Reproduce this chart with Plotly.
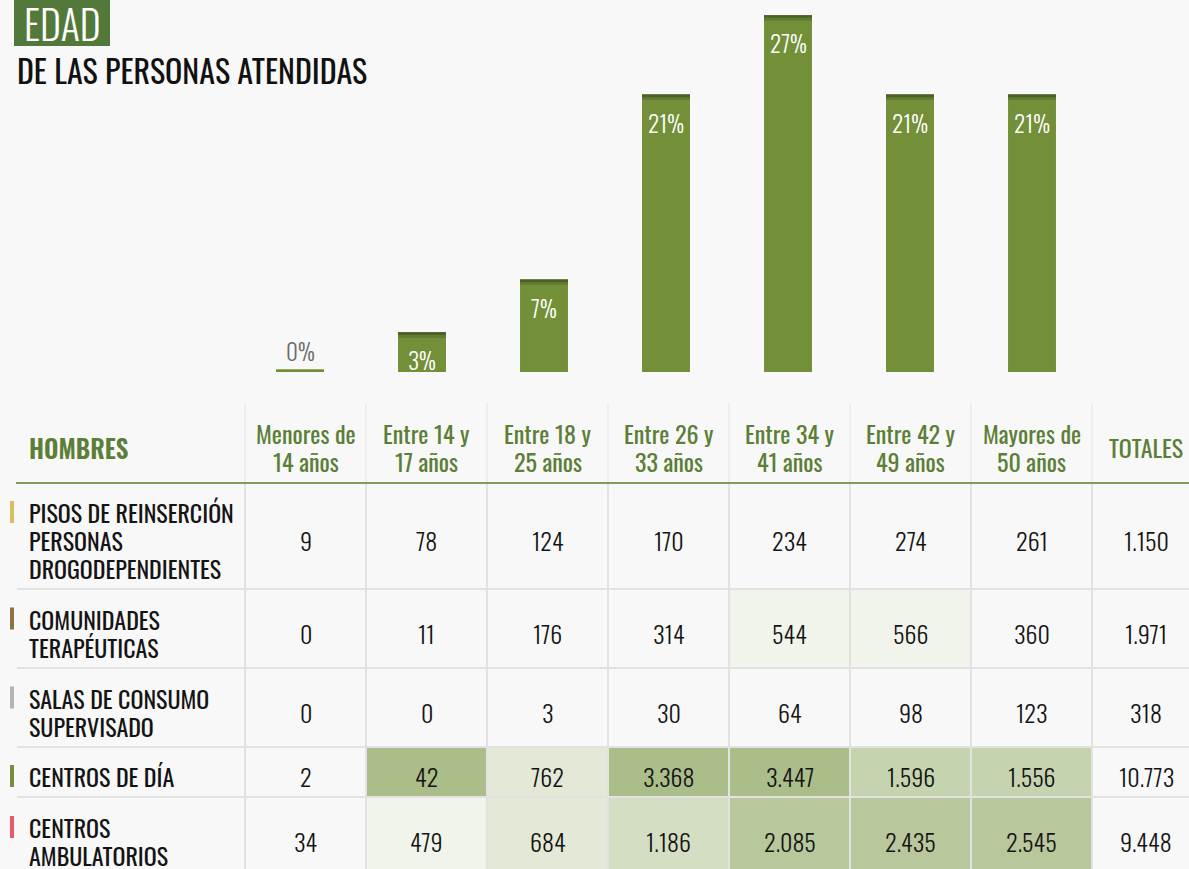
import plotly.graph_objects as go

# ---------------- data ----------------
age_groups = ["Menores de 14 años", "Entre 14 y 17 años", "Entre 18 y 25 años",
              "Entre 26 y 33 años", "Entre 34 y 41 años", "Entre 42 y 49 años",
              "Mayores de 50 años"]
age_headers = [["Menores de", "14 años"], ["Entre 14 y", "17 años"], ["Entre 18 y", "25 años"],
               ["Entre 26 y", "33 años"], ["Entre 34 y", "41 años"], ["Entre 42 y", "49 años"],
               ["Mayores de", "50 años"]]
age_share_pct = [0.2, 3, 7, 21, 27, 21, 21]

services = [["PISOS DE REINSERCIÓN", "PERSONAS", "DROGODEPENDIENTES"],
            ["COMUNIDADES", "TERAPÉUTICAS"],
            ["SALAS DE CONSUMO", "SUPERVISADO"],
            ["CENTROS DE DÍA"],
            ["CENTROS", "AMBULATORIOS"]]
service_colors = ["#d9bd5e", "#8b7440", "#b4b4b4", "#738f38", "#e85a6a"]

pisos = [9, 78, 124, 170, 234, 274, 261]
comunidades = [0, 11, 176, 314, 544, 566, 360]
salas = [0, 0, 3, 30, 64, 98, 123]
centros_dia = [2, 42, 762, 3368, 3447, 1596, 1556]
ambulatorios = [34, 479, 684, 1186, 2085, 2435, 2545]
totales = [1150, 1971, 318, 10773, 9448]

# highlight level of each cell (0 = none ... 6 = darkest)
shade_pisos = [0, 0, 0, 0, 0, 0, 0, 0]
shade_comunidades = [0, 0, 0, 0, 1, 1, 0, 0]
shade_salas = [0, 0, 0, 0, 0, 0, 0, 0]
shade_centros_dia = [0, 6, 2, 6, 6, 4, 4, 0]
shade_ambulatorios = [0, 1, 2, 3, 5, 5, 5, 0]

# ---------------- styles ----------------
FONT = "Oswald, Roboto Condensed, sans-serif"
BG = "#f8f8f8"
GREEN = "#738f38"
HEAD_GREEN = "#5b7f37"
INK = "#141414"
W, H = 1189, 869

shade_colors = [BG, "#f1f4ea", "#e3e9d6", "#d4dec3", "#c6d3af", "#b8c89c", "#abbd89"]
colorscale = [[i / 6, c] for i, c in enumerate(shade_colors)]

# table geometry (pixels)
label_left = 16
col_edges = [label_left, 245, 366, 487, 608, 729, 850, 971, 1092, 1200]
header_top, header_bottom = 403, 483
row_edges = [483, 589, 668, 747, 797, 877]
line_px = 28
text_drop = 4


def fmt(v):
    return f"{v:,}".replace(",", ".")


rows = [pisos, comunidades, salas, centros_dia, ambulatorios]
shades = [shade_pisos, shade_comunidades, shade_salas, shade_centros_dia, shade_ambulatorios]
z = [[0] + s for s in shades]

fig = go.Figure()

# ---- bar chart ----
fig.add_trace(go.Bar(
    x=age_groups, y=age_share_pct, marker=dict(color=GREEN, line=dict(width=0)),
    hoverinfo="skip", xaxis="x", yaxis="y"))
# dark top fold on bars
strip_outer, strip_inner = 0.42, 0.2
big = [v if v > 1 else None for v in age_share_pct]
fig.add_trace(go.Bar(
    x=age_groups, y=[strip_outer if v else None for v in big],
    base=[v - strip_outer if v else None for v in big],
    marker=dict(color="#637c31", line=dict(width=0)), hoverinfo="skip"))
fig.add_trace(go.Bar(
    x=age_groups, y=[strip_inner if v else None for v in big],
    base=[v - strip_inner if v else None for v in big],
    marker=dict(color="#4c6027", line=dict(width=0)), hoverinfo="skip"))

annotations = []
for g, v in zip(age_groups, age_share_pct):
    lab = f"{round(v)}%"
    inside = v > 1
    annotations.append(dict(x=g, y=v, xref="x", yref="y", text=lab, showarrow=False,
                            yanchor="middle", yshift=-28 if inside else 18,
                            font=dict(family=FONT, size=23, weight=300,
                                      color="white" if inside else "#6b6b6b")))

# ---- table ----
fig.add_trace(go.Heatmap(
    x=col_edges, y=row_edges, z=z,
    colorscale=colorscale, zmin=0, zmax=6, showscale=False,
    xgap=2, ygap=2, hoverinfo="skip", xaxis="x2", yaxis="y2"))

col_centers = [(a + b) / 2 for a, b in zip(col_edges[1:-1], col_edges[2:])]
row_centers = [(a + b) / 2 + text_drop for a, b in zip(row_edges[:-1], row_edges[1:])]

for r, vals, tot in zip(row_centers, rows, totales):
    for cx, v in zip(col_centers, vals + [tot]):
        annotations.append(dict(x=cx, y=r, xref="x2", yref="y2", text=fmt(v),
                                showarrow=False, xanchor="center", yanchor="middle",
                                font=dict(family=FONT, size=24, weight=300, color=INK)))

shapes = [
    # grid line colour under the cells
    dict(type="rect", xref="x2", yref="y2", x0=label_left + 1, x1=1200, y0=header_bottom,
         y1=877, fillcolor="#e2e2e2", line=dict(width=0), layer="below"),
    # title box
    dict(type="rect", xref="x2", yref="y2", x0=14, x1=110, y0=0, y1=46,
         fillcolor="#52783a", line=dict(width=0), layer="below"),
]
for xe in col_edges[1:-1]:
    shapes.append(dict(type="line", xref="x2", yref="y2", x0=xe, x1=xe, y0=header_top,
                       y1=header_bottom, line=dict(color="#ededed", width=2), layer="below"))
shapes.append(dict(type="line", xref="x2", yref="y2", x0=label_left, x1=1200,
                   y0=header_bottom, y1=header_bottom,
                   line=dict(color="#7f9b62", width=2), layer="above"))

header_mid = 447
annotations.append(dict(x=27, y=header_mid, xref="x2", yref="y2", text="HOMBRES",
                        showarrow=False, xanchor="left", yanchor="middle",
                        font=dict(family=FONT, size=25, weight=600, color=HEAD_GREEN)))
for cx, lines in zip(col_centers, age_headers + [["TOTALES"]]):
    n = len(lines)
    for k, ln in enumerate(lines):
        yy = header_mid + (k - (n - 1) / 2) * line_px
        annotations.append(dict(x=cx, y=yy, xref="x2", yref="y2", text=ln,
                                showarrow=False, xanchor="center", yanchor="middle",
                                font=dict(family=FONT, size=24, weight=400, color=HEAD_GREEN)))

for cy, lines, col in zip(row_centers, services, service_colors):
    n = len(lines)
    for k, ln in enumerate(lines):
        yy = cy + (k - (n - 1) / 2) * line_px
        annotations.append(dict(x=27, y=yy, xref="x2", yref="y2", text=ln, showarrow=False,
                                xanchor="left", yanchor="middle",
                                font=dict(family=FONT, size=24, weight=400, color=INK)))
    first = cy - (n - 1) / 2 * line_px
    shapes.append(dict(type="rect", xref="x2", yref="y2", x0=10, x1=14,
                       y0=first - 11, y1=first + 11, fillcolor=col, line=dict(width=0)))

# titles
annotations.append(dict(x=62, y=23, xref="x2", yref="y2", text="EDAD", showarrow=False,
                        xanchor="center", yanchor="middle",
                        font=dict(family=FONT, size=40, weight=300, color="white")))
annotations.append(dict(x=15, y=69, xref="x2", yref="y2", text="DE LAS PERSONAS ATENDIDAS",
                        showarrow=False, xanchor="left", yanchor="middle",
                        font=dict(family=FONT, size=32, weight=400, color="#111111")))

fig.update_layout(
    width=W, height=H, autosize=False,
    margin=dict(l=0, r=0, t=0, b=0, pad=0),
    paper_bgcolor=BG, plot_bgcolor="rgba(0,0,0,0)",
    showlegend=False, barmode="overlay", bargap=0.607,
    xaxis=dict(domain=[239 / W, 1093 / W], visible=False, fixedrange=True,
               categoryorder="array", categoryarray=age_groups),
    yaxis=dict(domain=[(H - 372) / H, (H - 2) / H], range=[0, 28], visible=False,
               fixedrange=True),
    xaxis2=dict(domain=[0, 1], range=[0, W], visible=False, anchor="y2", fixedrange=True),
    yaxis2=dict(domain=[0, 1], range=[H, 0], visible=False, anchor="x2", fixedrange=True),
    shapes=shapes, annotations=annotations,
)

fig.write_html("out.html", config={"displayModeBar": False},
               post_script="document.body.style.margin='0';")
